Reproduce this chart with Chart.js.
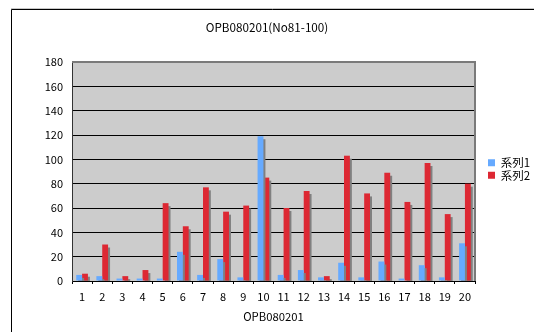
<!DOCTYPE html>
<html>
<head>
<meta charset="utf-8">
<script src="https://cdn.jsdelivr.net/npm/chart.js@4.4.1/dist/chart.umd.min.js"></script>
<style>
  html, body { margin: 0; padding: 0; background: #fff; }
  #wrap { width: 534px; height: 332px; }
</style>
</head>
<body>
<div id="wrap"><canvas id="chart" width="534" height="332"></canvas></div>
<script>
// Sample numbers 1..20 and the two measured series
const categories = ['1','2','3','4','5','6','7','8','9','10','11','12','13','14','15','16','17','18','19','20'];
const series1 = [5, 4, 2, 2, 2, 24, 5, 18, 3, 119, 5, 9, 3, 15, 3, 16, 2, 13, 3, 31];
const series2 = [6, 30, 4, 9, 64, 45, 77, 57, 62, 85, 60, 74, 4, 103, 72, 89, 65, 97, 55, 80];
const seriesNames = ['系列1', '系列2'];
const chartTitle = 'OPB080201(No81-100)';
const xAxisTitle = 'OPB080201';
const yMin = 0, yMax = 180, yStep = 20;

const FONT = '"Noto Sans CJK JP", "DejaVu Sans", sans-serif';
const LEGEND_W = 59;

// Outer frame, grey plot background and plot border
const framePlugin = {
  id: 'frame',
  beforeDraw(chart) {
    const { ctx, chartArea: a } = chart;
    ctx.save();
    ctx.fillStyle = '#ffffff';
    ctx.fillRect(0, 0, chart.width, chart.height);
    ctx.strokeStyle = '#c8c8c8';
    ctx.lineWidth = 1;
    ctx.beginPath();
    ctx.moveTo(11, 8.5); ctx.lineTo(chart.width, 8.5);
    ctx.stroke();
    ctx.strokeStyle = '#000000';
    ctx.beginPath();
    ctx.moveTo(11.5, chart.height); ctx.lineTo(11.5, 9.5); ctx.lineTo(chart.width, 9.5);
    ctx.stroke();
    ctx.fillStyle = '#cccccc';
    ctx.fillRect(a.left, a.top, a.right - a.left, a.bottom - a.top);
    ctx.restore();
  },
  beforeDatasetsDraw(chart) {
    const { ctx, chartArea: a } = chart;
    ctx.save();
    ctx.strokeStyle = '#7a7a7a';
    ctx.lineWidth = 2;
    ctx.beginPath();
    ctx.moveTo(a.left, a.top); ctx.lineTo(a.right, a.top); ctx.lineTo(a.right, a.bottom);
    ctx.stroke();
    ctx.restore();
    // drop shadow behind every bar
    ctx.save();
    ctx.shadowColor = '#808080';
    ctx.shadowOffsetX = 2;
    ctx.shadowOffsetY = 3;
    ctx.shadowBlur = 0;
  },
  afterDatasetsDraw(chart) {
    chart.ctx.restore();
  }
};

// Fixed-width legend box sitting a little away from the plot
const legendPlacement = {
  id: 'legendPlacement',
  afterInit(chart) {
    const lg = chart.legend;
    const fit = lg.fit.bind(lg);
    lg.fit = function () { fit(); lg.width = LEGEND_W; };
  },
  afterLayout(chart) {
    const lg = chart.legend;
    lg.left += 12;
    lg.right += 12;
    lg.top += 3;
    lg.bottom += 3;
  }
};

new Chart(document.getElementById('chart'), {
  type: 'bar',
  data: {
    labels: categories,
    datasets: [
      { label: seriesNames[0], data: series1, backgroundColor: '#66aaff', clip: 0 },
      { label: seriesNames[1], data: series2, backgroundColor: '#dd2833', clip: 0 }
    ]
  },
  options: {
    responsive: false,
    animation: false,
    devicePixelRatio: 1,
    events: [],
    datasets: { bar: { categoryPercentage: 0.58, barPercentage: 1.0, borderWidth: 0 } },
    layout: { padding: { left: 0, right: 0, top: 0, bottom: 0 } },
    plugins: {
      title: {
        display: true,
        text: chartTitle,
        color: '#000',
        font: { family: FONT, size: 11.7, weight: 'normal' },
        padding: { top: 21, bottom: 27 }
      },
      legend: {
        position: 'right',
        labels: {
          color: '#000',
          font: { family: FONT, size: 11.5 },
          boxWidth: 7,
          boxHeight: 7,
          padding: 1
        }
      },
      tooltip: { enabled: false }
    },
    scales: {
      x: {
        offset: true,
        grid: { display: true, drawOnChartArea: false, drawTicks: true, tickLength: 3, color: '#000', offset: true },
        border: { display: true, color: '#000', width: 1 },
        ticks: { color: '#000', font: { family: FONT, size: 11 }, padding: 6, maxRotation: 0, autoSkip: false },
        title: { display: true, text: xAxisTitle, color: '#000', font: { family: FONT, size: 11.3 }, padding: { top: 4, bottom: 9 } },
        afterFit(scale) { scale.height = 51; }
      },
      y: {
        min: yMin,
        max: yMax,
        ticks: { stepSize: yStep, color: '#000', font: { family: FONT, size: 11 }, padding: 9 },
        grid: { color: '#000', lineWidth: 1, drawTicks: false },
        border: { display: true, color: '#333', width: 1 },
        afterFit(scale) { scale.width = 72; }
      }
    }
  },
  plugins: [framePlugin, legendPlacement]
});
</script>
</body>
</html>
